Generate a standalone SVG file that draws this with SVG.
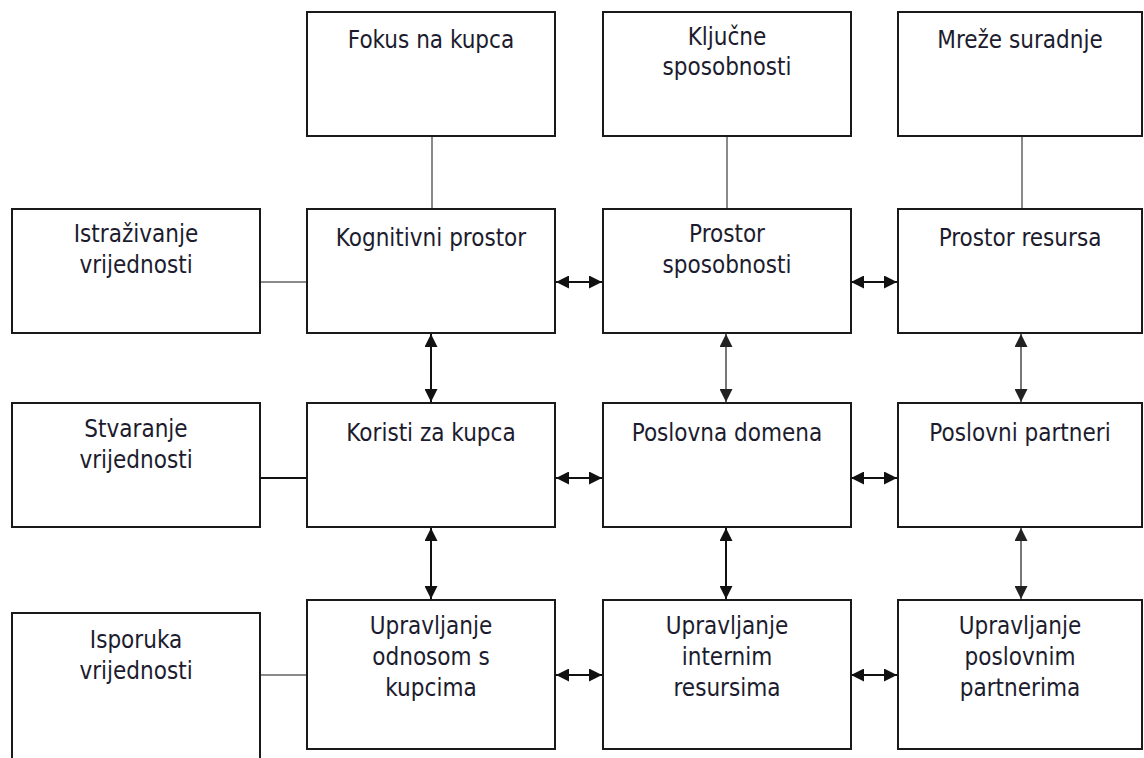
<svg xmlns="http://www.w3.org/2000/svg" width="1144" height="758" viewBox="0 0 1144 758">
<style>
.box{fill:#fff;stroke:#1a1a1a;stroke-width:2}
.t{font-family:"DejaVu Sans Condensed","DejaVu Sans",sans-serif;font-size:24px;fill:#1c1c2e;text-anchor:middle}
.g{stroke:#8a8a8a;stroke-width:2;fill:none}
.k{stroke:#111;stroke-width:2;fill:none}
.ka{stroke:#111;stroke-width:2;fill:none;marker-start:url(#ak);marker-end:url(#ak)}
.ga{stroke:#777;stroke-width:2;fill:none;marker-start:url(#ag);marker-end:url(#ag)}
</style>
<defs>
<marker id="ak" viewBox="0 0 10 10" refX="10" refY="5" markerWidth="6.5" markerHeight="6.5" orient="auto-start-reverse" markerUnits="strokeWidth"><path d="M0,0 L10,5 L0,10 z" fill="#111"/></marker>
<marker id="ag" viewBox="0 0 10 10" refX="10" refY="5" markerWidth="6.5" markerHeight="6.5" orient="auto-start-reverse" markerUnits="strokeWidth"><path d="M0,0 L10,5 L0,10 z" fill="#222"/></marker>
</defs>
<rect width="1144" height="758" fill="#fff"/>
<g id="connectors">
<line class="g" x1="432" y1="136" x2="432" y2="209"/>
<line class="g" x1="727" y1="136" x2="727" y2="209"/>
<line class="g" x1="1022" y1="136" x2="1022" y2="209"/>
<line class="g" x1="260" y1="282" x2="307" y2="282"/>
<line class="k" x1="260" y1="478" x2="307" y2="478"/>
<line class="g" x1="260" y1="675" x2="307" y2="675"/>
<line class="ka" x1="556" y1="282" x2="602" y2="282"/>
<line class="ka" x1="851" y1="282" x2="897" y2="282"/>
<line class="ka" x1="556" y1="478" x2="602" y2="478"/>
<line class="ka" x1="851" y1="478" x2="897" y2="478"/>
<line class="ka" x1="556" y1="675" x2="602" y2="675"/>
<line class="ka" x1="851" y1="675" x2="897" y2="675"/>
<line class="ka" x1="431" y1="334" x2="431" y2="402"/>
<line class="ga" x1="726" y1="334" x2="726" y2="402"/>
<line class="ga" x1="1021" y1="334" x2="1021" y2="402"/>
<line class="ka" x1="431" y1="528" x2="431" y2="599"/>
<line class="ka" x1="726" y1="528" x2="726" y2="599"/>
<line class="ga" x1="1021" y1="528" x2="1021" y2="599"/>
</g>
<g id="n-fokus"><rect class="box" x="307" y="12" width="248" height="124"/><text class="t" x="431" y="48">Fokus na kupca</text></g>
<g id="n-kljucne"><rect class="box" x="603" y="12" width="248" height="124"/><text class="t" x="727" y="45">Ključne</text><text class="t" x="727" y="75">sposobnosti</text></g>
<g id="n-mreze"><rect class="box" x="898" y="12" width="244" height="124"/><text class="t" x="1020" y="48">Mreže suradnje</text></g>
<g id="n-istrazivanje"><rect class="box" x="12" y="209" width="248" height="124"/><text class="t" x="136" y="242">Istraživanje</text><text class="t" x="136" y="273">vrijednosti</text></g>
<g id="n-kognitivni"><rect class="box" x="307" y="209" width="248" height="124"/><text class="t" x="431" y="246">Kognitivni prostor</text></g>
<g id="n-prostor-sposobnosti"><rect class="box" x="603" y="209" width="248" height="124"/><text class="t" x="727" y="242">Prostor</text><text class="t" x="727" y="273">sposobnosti</text></g>
<g id="n-prostor-resursa"><rect class="box" x="898" y="209" width="244" height="124"/><text class="t" x="1020" y="246">Prostor resursa</text></g>
<g id="n-stvaranje"><rect class="box" x="12" y="403" width="248" height="124"/><text class="t" x="136" y="437">Stvaranje</text><text class="t" x="136" y="468">vrijednosti</text></g>
<g id="n-koristi"><rect class="box" x="307" y="403" width="248" height="124"/><text class="t" x="431" y="441">Koristi za kupca</text></g>
<g id="n-poslovna-domena"><rect class="box" x="603" y="403" width="248" height="124"/><text class="t" x="727" y="441">Poslovna domena</text></g>
<g id="n-poslovni-partneri"><rect class="box" x="898" y="403" width="244" height="124"/><text class="t" x="1020" y="441">Poslovni partneri</text></g>
<g id="n-isporuka"><rect class="box" x="12" y="613" width="248" height="160"/><text class="t" x="136" y="648">Isporuka</text><text class="t" x="136" y="679">vrijednosti</text></g>
<g id="n-upr-kupci"><rect class="box" x="307" y="600" width="248" height="149"/><text class="t" x="431" y="634">Upravljanje</text><text class="t" x="431" y="665">odnosom s</text><text class="t" x="431" y="696">kupcima</text></g>
<g id="n-upr-interni"><rect class="box" x="603" y="600" width="248" height="149"/><text class="t" x="727" y="634">Upravljanje</text><text class="t" x="727" y="665">internim</text><text class="t" x="727" y="696">resursima</text></g>
<g id="n-upr-partneri"><rect class="box" x="898" y="600" width="244" height="149"/><text class="t" x="1020" y="634">Upravljanje</text><text class="t" x="1020" y="665">poslovnim</text><text class="t" x="1020" y="696">partnerima</text></g>
</svg>
